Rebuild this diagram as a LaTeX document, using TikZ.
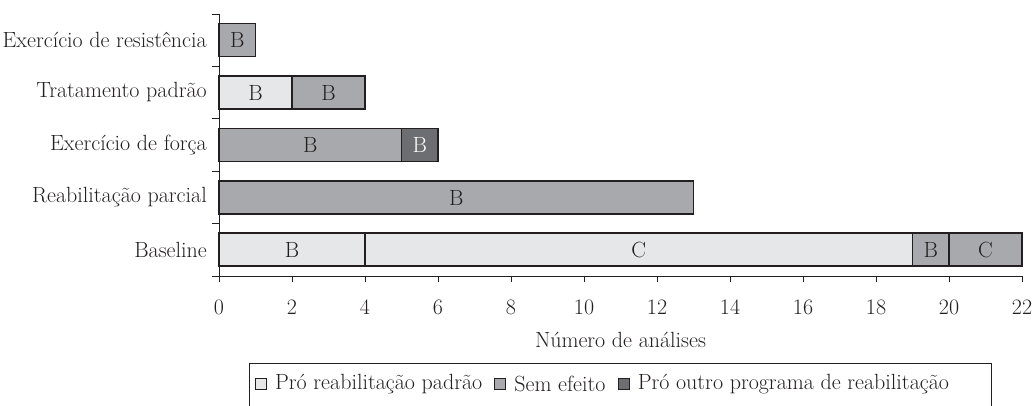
\documentclass[tikz,border=0pt]{standalone}
\usepackage{tikz}
\usetikzlibrary{positioning}

\definecolor{pro}{RGB}{230,231,232}
\definecolor{sem}{RGB}{167,169,172}
\definecolor{outro}{RGB}{109,110,113}
\definecolor{linha}{RGB}{35,31,32}

\tikzset{
  bar/.style={draw=linha,line width=1.1pt},
  axe/.style={draw=linha,line width=0.9pt},
  lab/.style={text=linha,inner sep=0pt,font=\fontsize{22}{26}\selectfont},
  key/.style={draw=linha,line width=0.8pt,minimum size=11pt,inner sep=0pt}
}

\begin{document}
\begin{tikzpicture}[x=1pt,y=1pt]
  \useasboundingbox (0,0) rectangle (1033,406);

  \begin{scope}[shift={(219,130)},x=36.5pt]
  % bars
  \draw[bar,fill=sem] (0,219.5) rectangle (1,252.5);
  \node[lab] (r1) at (0.5,236) {B};

  \draw[bar,fill=pro] (0,167) rectangle (2,200);
  \draw[bar,fill=sem] (2,167) rectangle (4,200);
  \node[lab] (t1) at (1,183.5) {B};
  \node[lab] (t2) at (3,183.5) {B};

  \draw[bar,fill=sem] (0,114.5) rectangle (5,147.5);
  \draw[bar,fill=outro] (5,114.5) rectangle (6,147.5);
  \node[lab] (f1) at (2.5,131) {B};
  \node[lab,text=white] (f2) at (5.5,131) {B};

  \draw[bar,fill=sem] (0,62) rectangle (13,95);
  \node[lab] (p1) at (6.5,78.5) {B};

  \draw[bar,fill=pro] (0,10) rectangle (4,43);
  \draw[bar,fill=pro] (4,10) rectangle (19,43);
  \draw[bar,fill=sem] (19,10) rectangle (20,43);
  \draw[bar,fill=sem] (20,10) rectangle (22,43);
  \node[lab] (b1) at (2,26.5) {B};
  \node[lab] (b2) at (11.5,26.5) {C};
  \node[lab] (b3) at (19.5,26.5) {B};
  \node[lab] (b4) at (21,26.5) {C};

  % axes
  \draw[axe] (0,262) -- (0,0) -- (22,0);
  \foreach \k in {0,...,5}
    \draw[axe] (0,52.4*\k) -- ++(-7pt,0);
  \foreach \v in {0,2,...,22} {
    \draw[axe] (\v,0) -- ++(0,-6);
    \node[lab] (n\v) at (\v,-31) {\v};
  }

  % categories
  \node[lab,anchor=east] (c1) at (-0.33,236) {Exercício de resistência};
  \node[lab,anchor=east] (c2) at (-0.33,183.5) {Tratamento padrão};
  \node[lab,anchor=east] (c3) at (-0.33,131) {Exercício de força};
  \node[lab,anchor=east] (c4) at (-0.33,78.5) {Reabilitação parcial};
  \node[lab,anchor=east] (c5) at (-0.33,26.5) {Baseline};

  \node[lab] (xt) at (11,-64) {Número de análises};
  \end{scope}

  % legend
  \draw[axe] (249,-2) -- (249,43) -- (991,43) -- (991,-2);
  \node[key,fill=pro] (k1) at (261,22) {};
  \node[lab,anchor=west,right=8pt of k1] (l1) {Pró reabilitação padrão};
  \node[key,fill=sem,right=12pt of l1] (k2) {};
  \node[lab,anchor=west,right=8pt of k2] (l2) {Sem efeito};
  \node[key,fill=outro,right=12pt of l2] (k3) {};
  \node[lab,anchor=west,right=8pt of k3] (l3) {Pró outro programa de reabilitação};
\end{tikzpicture}
\end{document}
